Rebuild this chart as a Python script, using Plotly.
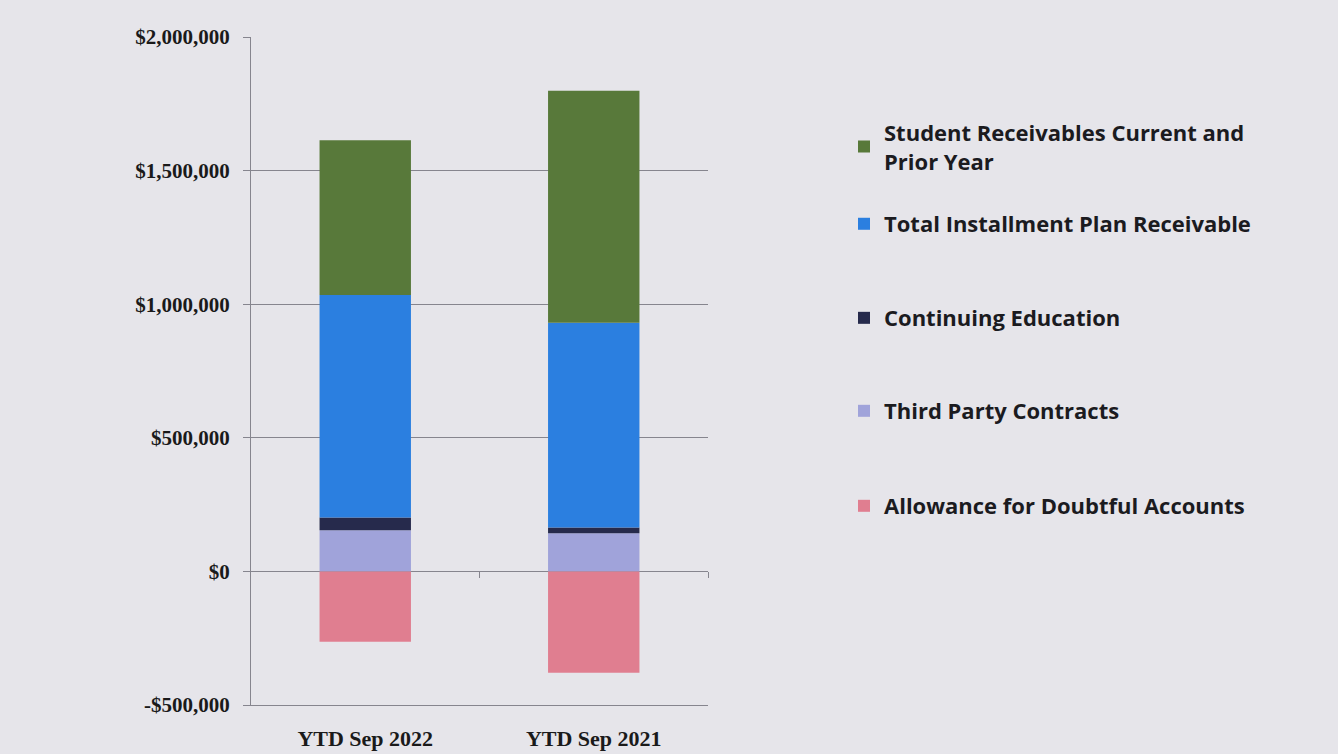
import plotly.graph_objects as go

# Accounts receivable composition, year-to-date September
periods = ["YTD Sep 2022", "YTD Sep 2021"]

third_party = [154000, 143000]
continuing_ed = [48000, 21000]
installment = [832000, 767000]
student_recv = [580000, 868000]
allowance = [-263000, -379000]

y_tickvals = [-500000, 0, 500000, 1000000, 1500000, 2000000]
y_ticktext = ["-$500,000", "$0", "$500,000", "$1,000,000", "$1,500,000", "$2,000,000"]

series = [
    ("Third Party Contracts", third_party, "#a0a3da", "legend4", 4),
    ("Continuing Education", continuing_ed, "#262a4c", "legend3", 3),
    ("Total Installment Plan Receivable", installment, "#2b7fe0", "legend2", 2),
    ("Student Receivables Current and<br>Prior Year", student_recv, "#58793a", "legend", 1),
    ("Allowance for Doubtful Accounts", allowance, "#e07e90", "legend5", 5),
]

fig = go.Figure()
for name, vals, color, leg, rank in series:
    fig.add_trace(go.Bar(
        x=periods, y=vals, name=name,
        marker=dict(color=color, line=dict(width=0)),
        legend=leg, legendrank=rank,
    ))

BG = "#e6e5ea"
GRID = "#86858e"
legend_font = dict(family="Open Sans", size=22, color="#1b1b1f", weight="bold")
legend_x = 1.2976
legend_ys = {"legend": 0.8353, "legend2": 0.7201, "legend3": 0.5793,
             "legend4": 0.4401, "legend5": 0.2979}

layout_legends = {}
for key, yv in legend_ys.items():
    layout_legends[key] = dict(
        x=legend_x, xanchor="left", y=yv, yanchor="middle",
        font=legend_font, bgcolor="rgba(0,0,0,0)", borderwidth=0,
    )

fig.update_layout(
    width=1338, height=754,
    margin=dict(l=251, r=630, t=37, b=49, autoexpand=False),
    paper_bgcolor=BG, plot_bgcolor=BG,
    barmode="relative", bargap=0.6,
    showlegend=True,
    **layout_legends,
    yaxis=dict(
        range=[-500000, 2000000],
        tickvals=y_tickvals, ticktext=y_ticktext,
        showgrid=True, gridcolor=GRID, gridwidth=1,
        zeroline=True, zerolinecolor=GRID, zerolinewidth=1,
        showline=True, linecolor=GRID, linewidth=1,
        ticks="outside", ticklen=7, tickcolor=GRID,
        ticklabelstandoff=9, automargin=False,
        tickfont=dict(family="Liberation Serif", size=21, color="#1a1a1a", weight="bold"),
    ),
    xaxis=dict(
        range=[-0.5, 1.5],
        showline=True, linecolor=GRID, linewidth=1,
        showgrid=False, ticks="", automargin=False,
        ticklabelstandoff=14,
        tickfont=dict(family="Liberation Serif", size=22, color="#1a1a1a", weight="bold"),
    ),
    xaxis2=dict(
        overlaying="x", anchor="free", position=0.2, side="bottom",
        range=[-0.5, 1.5], tickvals=[0.5, 1.5], showticklabels=False,
        showline=False, showgrid=False, zeroline=False, automargin=False,
        ticks="outside", ticklen=6, tickcolor=GRID,
    ),
)

# empty trace so the zero-line category ticks are drawn
fig.add_trace(go.Scatter(x=[0.5], y=[0], xaxis="x2", mode="markers",
                         marker=dict(opacity=0), showlegend=False, hoverinfo="skip"))

fig.write_html("out.html")
